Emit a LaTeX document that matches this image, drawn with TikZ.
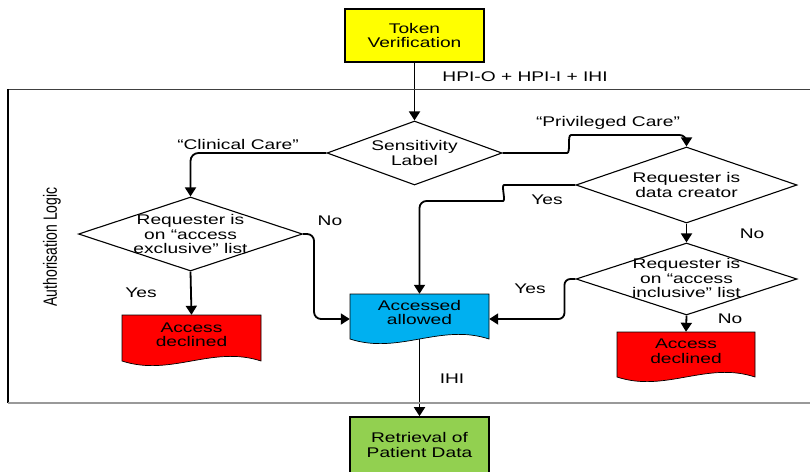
\documentclass[tikz,border=0pt]{standalone}
\usepackage{fontspec}
\setmainfont{Liberation Sans}[FakeStretch=1.37]
\newfontfamily\plainsans{Liberation Sans}
\usetikzlibrary{arrows.meta,shapes.geometric,calc}
\pgfdeclarelayer{bg}
\pgfsetlayers{bg,main}
\definecolor{tokyellow}{RGB}{255,255,0}
\definecolor{docblue}{RGB}{0,176,240}
\definecolor{docred}{RGB}{255,0,0}
\definecolor{retgreen}{RGB}{146,208,80}
% name, x-left, y-top, x-right, y-baseline, colour
\newcommand\docnode[6]{%
  \fill[#6,draw=black,line width=0.7pt] (#2,#3) -- (#4,#3) -- (#4,#5)
    .. controls ({#4-0.35*(#4-#2)},{#5-16}) and ({#2+0.35*(#4-#2)},{#5+16}) .. (#2,#5) -- cycle;
  \node[inner sep=0pt,minimum width={#4-#2},minimum height={#5-#3+5}] (#1) at ({(#2+#4)/2},{(#3+#5+5)/2}) {};
}
\begin{document}
\begin{tikzpicture}[x=1pt,y=-1pt,
  txt/.style={font=\fontsize{14}{14.5}\selectfont,align=center,inner sep=0pt},
  conn/.style={line width=1.8pt,-{Triangle[length=9pt,width=11pt]}},
  dia/.style={draw,diamond,line width=1.1pt,fill=white,inner sep=0pt},
  box/.style={draw,line width=1.6pt,rectangle,txt}]
\useasboundingbox (0,0) rectangle (810,471);

% frame of the authorisation logic
\draw[line width=1pt,black!75] (8,89) -- (820,89);
\draw[line width=1.1pt,black] (8,89) -- (8,403);
\draw[line width=1.3pt,black!40] (8,403) -- (820,403);

% boxes
\node[box,fill=tokyellow,minimum width=139,minimum height=53] (tok) at (414.5,35.5) {Token\\Verification};
\node[box,fill=retgreen,minimum width=139,minimum height=56] (ret) at (419.5,445) {Retrieval of\\Patient Data};

% diamonds
\node[dia,minimum width=175,minimum height=64] (sens) at (414.5,153) {};
\node[txt] (sensT) at (sens.center) {Sensitivity\\Label};
\node[dia,minimum width=224,minimum height=74] (excl) at (190.5,234) {};
\node[txt] (exclT) at (excl.center) {Requester is\\on “access\\exclusive” list};
\node[dia,minimum width=221,minimum height=76] (priv) at (686.5,185) {};
\node[txt] (privT) at (priv.center) {Requester is\\data creator};
\node[dia,minimum width=221,minimum height=72] (incl) at (686.5,279) {};
\node[txt] (inclT) at ([yshift=1]incl.center) {Requester is\\on “access\\inclusive” list};

% documents
\docnode{blue}{350}{294}{489}{339}{docblue}
\node[txt] (blueT) at (419.5,312.5) {Accessed\\allowed};
\docnode{redA}{122}{315}{261}{361}{docred}
\node[txt] (redAT) at (191.5,334.5) {Access\\declined};
\docnode{redB}{617}{332}{755}{377}{docred}
\node[txt] (redBT) at (686,351) {Access\\declined};

% connectors
\begin{pgfonlayer}{bg}
\draw[conn] (tok.south) -- (sens.north);
\draw[conn,rounded corners=8] (sens.west) -| (excl.north);
\draw[conn] (excl.south) -- (redA.north);
\draw[conn,rounded corners=7] (excl.east) -- ++(11,0) |- (blue.west);
\draw[conn,rounded corners=7] (sens.east) -- (560,153) .. controls (571,153) and (567,135) .. (578,135) -| (priv.north);
\draw[conn,rounded corners=7] (priv.west) -- (511,185) .. controls (501,185) and (506,201) .. (496,201) -| (blue.north);
\draw[conn] (priv.south) -- (incl.north);
\draw[conn,rounded corners=6] (incl.west) -- ++(-11,0) |- (blue.east);
\draw[conn] (incl.south) -- (redB.north);
\draw[conn] (blue.center) -- (ret.north);
\end{pgfonlayer}

% labels
\node[txt] (lHpi) at (525,77) {HPI-O + HPI-I + IHI};
\node[txt] (lClin) at (238,144) {“Clinical Care”};
\node[txt] (lNoA) at (330,221) {No};
\node[txt] (lYesA) at (141,293) {Yes};
\node[txt] (lPriv) at (608,123) {“Privileged Care”};
\node[txt] (lYesB) at (547,200) {Yes};
\node[txt] (lNoB) at (752,234) {No};
\node[txt] (lYesC) at (530,289) {Yes};
\node[txt] (lNoC) at (730,319) {No};
\node[txt] (lIhi) at (452,379) {IHI};
\node[rotate=90,inner sep=0pt] (lAuth) at (52,247) {\scalebox{1}[1.37]{\plainsans\fontsize{14}{14}\selectfont Authorisation Logic}};
\end{tikzpicture}
\end{document}
